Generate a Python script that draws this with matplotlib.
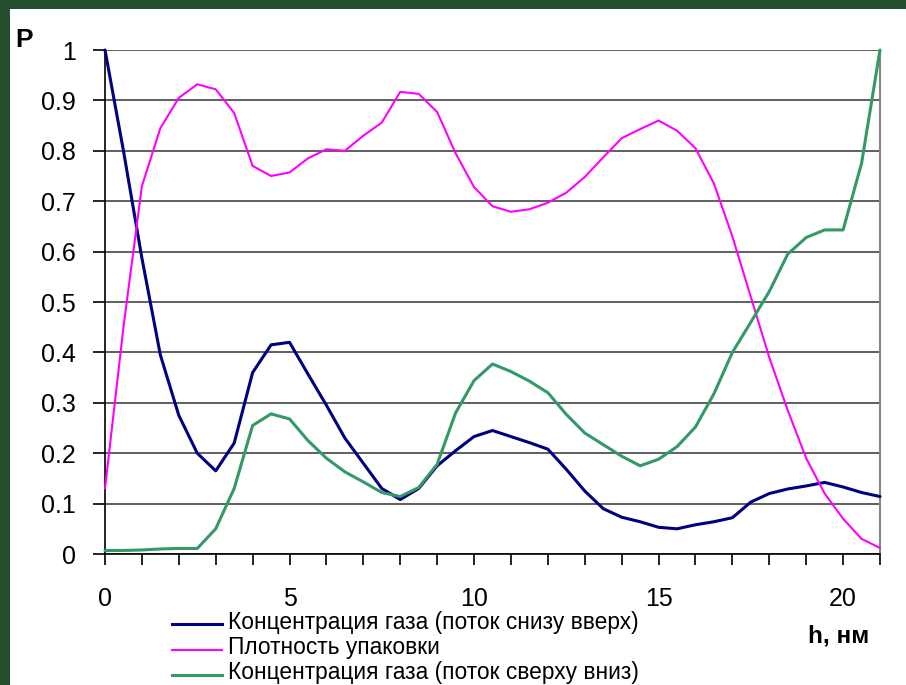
import matplotlib.pyplot as plt
from matplotlib.lines import Line2D
from matplotlib.patches import Rectangle

plt.rcParams['font.family'] = ['Liberation Sans', 'DejaVu Sans']

# толщина слоя, нм (шаг 0.5)
h = [i * 0.5 for i in range(43)]

# концентрация газа, поток снизу вверх
gas_up = [1.0, 0.80, 0.587, 0.395, 0.275, 0.20, 0.165, 0.22, 0.36, 0.415,
          0.42, 0.357, 0.295, 0.23, 0.18, 0.13, 0.108, 0.13, 0.175, 0.205,
          0.233, 0.245, 0.233, 0.221, 0.208, 0.168, 0.125, 0.09, 0.073, 0.064,
          0.053, 0.05, 0.058, 0.064, 0.072, 0.103, 0.12, 0.129, 0.135, 0.142,
          0.133, 0.122, 0.114]

# плотность упаковки
density = [0.13, 0.45, 0.73, 0.845, 0.905, 0.932, 0.922, 0.875, 0.77, 0.75,
           0.757, 0.785, 0.803, 0.80, 0.83, 0.856, 0.917, 0.913, 0.877, 0.795,
           0.728, 0.69, 0.679, 0.684, 0.697, 0.717, 0.748, 0.787, 0.825, 0.843,
           0.86, 0.84, 0.805, 0.735, 0.63, 0.51, 0.39, 0.285, 0.19, 0.12,
           0.07, 0.03, 0.012]

# концентрация газа, поток сверху вниз
gas_down = [0.007, 0.007, 0.008, 0.010, 0.011, 0.011, 0.05, 0.13, 0.255, 0.278,
            0.268, 0.225, 0.19, 0.163, 0.143, 0.122, 0.114, 0.132, 0.178, 0.28,
            0.344, 0.377, 0.362, 0.343, 0.32, 0.277, 0.24, 0.217, 0.194, 0.175,
            0.188, 0.213, 0.252, 0.318, 0.40, 0.46, 0.521, 0.595, 0.628, 0.643,
            0.643, 0.775, 1.0]

labels = ['Концентрация газа (поток снизу вверх)',
          'Плотность упаковки',
          'Концентрация газа (поток сверху вниз)']
colors = ['#000080', '#ff00ff', '#339966']
widths = [2.2, 1.5, 2.2]

fig = plt.figure(figsize=(9.06, 6.85), dpi=100)
fig.patch.set_facecolor('#24502f')
# белая подложка слайда
fig.add_artist(Rectangle((10 / 906, 0), 1, (685 - 9) / 685,
                         transform=fig.transFigure, facecolor='white',
                         edgecolor='none', zorder=0))

ax = fig.add_axes([105 / 906, 131 / 685, 775 / 906, 504 / 685])
ax.set_facecolor('white')

for y, c, w in zip([gas_up, density, gas_down], colors, widths):
    ax.plot(h, y, color=c, lw=w, clip_on=False, zorder=3,
            solid_joinstyle='round', solid_capstyle='round')

ax.set_xlim(0, 21)
ax.set_ylim(0, 1)

ax.set_yticks([i / 10 for i in range(11)])
ax.set_yticklabels([f'{i / 10:g}' for i in range(11)])
ax.set_xticks(range(22))
ax.set_xticklabels([str(i) if i % 5 == 0 else '' for i in range(22)])

ax.yaxis.grid(True, color='#444444', lw=1.2)
ax.set_axisbelow(True)
ax.tick_params(axis='y', direction='out', length=9, width=1.2, labelsize=18, pad=12)
ax.tick_params(axis='x', direction='out', length=8, width=1.2, labelsize=18, pad=16)

ax.spines['top'].set_visible(False)
ax.spines['right'].set_color('#888888')
ax.spines['right'].set_linewidth(1.5)
ax.spines['left'].set_linewidth(1.2)
ax.spines['bottom'].set_linewidth(1.2)

fig.text(15 / 906, 1 - 47 / 685, 'P', fontsize=19, fontweight='bold', va='baseline')
fig.text(808 / 906, 1 - 643 / 685, 'h, нм', fontsize=17.5, fontweight='bold', va='baseline')

# легенда под графиком
for i, (lab, c, w) in enumerate(zip(labels, colors, widths)):
    yy = 1 - (624 + 25.5 * i) / 685
    fig.add_artist(Line2D([172 / 906, 222 / 906], [yy, yy], color=c, lw=w,
                          transform=fig.transFigure))
    fig.text(228 / 906, yy + 2 / 685, lab, fontsize=16.4, va='center')

fig.savefig('out.png', dpi=100, facecolor=fig.get_facecolor())
